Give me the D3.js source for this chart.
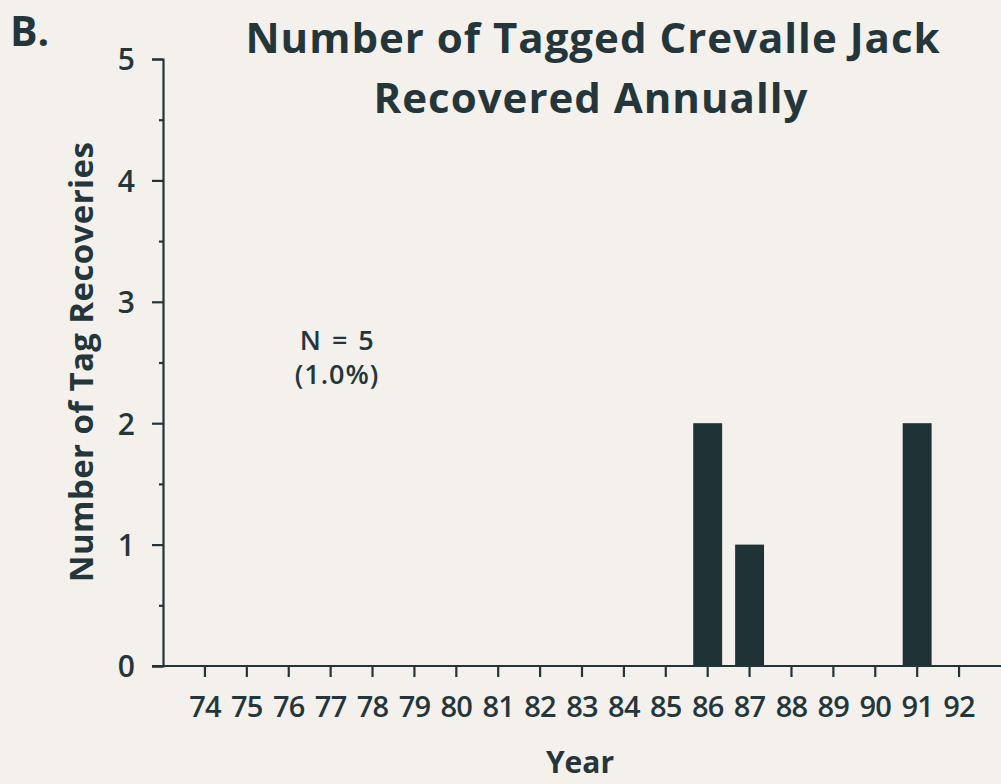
<!DOCTYPE html>
<html>
<head>
<meta charset="utf-8">
<script src="https://cdn.jsdelivr.net/npm/d3@7"></script>
<style>
  body { margin: 0; background: #f4f1ec; }
  svg { display: block; }
  text { font-family: "Open Sans", sans-serif; fill: #25363b; }
</style>
</head>
<body>
<svg id="svg" width="1001" height="784"></svg>
<script>
// data
var years = ["74","75","76","77","78","79","80","81","82","83","84","85","86","87","88","89","90","91","92"];
var recoveries = [0,0,0,0,0,0,0,0,0,0,0,0,2,1,0,0,0,2,0];
var yTicks = [0,1,2,3,4,5];
var yMinor = [0.5,1.5,2.5,3.5,4.5];

var ink = "#22343a";
var svg = d3.select("#svg");

var x = d3.scaleBand()
  .domain(years)
  .range([184, 980])
  .paddingInner(0.31)
  .paddingOuter(0.155);
var y = d3.scaleLinear()
  .domain([0, 5])
  .range([666, 59]);

// bars
svg.append("g").selectAll("rect")
  .data(years.map((d,i)=>({yr: d, v: recoveries[i]})).filter(d=>d.v > 0))
  .enter().append("rect")
  .attr("x", d=>x(d.yr))
  .attr("width", x.bandwidth())
  .attr("y", d=>y(d.v))
  .attr("height", d=>y(0)-y(d.v))
  .attr("fill", "#1f3236");

// y axis
var yax = svg.append("g")
  .attr("transform", "translate(163,0)")
  .call(d3.axisLeft(y).tickValues(yTicks).tickSize(11).tickPadding(17).tickFormat(d3.format("d")));
yax.selectAll("text").style("font-size", "30px").style("font-weight", "600").attr("dy", "0.36em");
svg.append("g")
  .attr("transform", "translate(163,0)")
  .call(d3.axisLeft(y).tickValues(yMinor).tickSize(4).tickFormat(""))
  .select(".domain").remove();

// x axis
var xax = svg.append("g")
  .attr("transform", "translate(0," + y(0) + ")")
  .call(d3.axisBottom(x).tickSize(11).tickPadding(19));
xax.select(".domain").remove();
xax.selectAll("text").style("font-size", "29px").style("font-weight", "600").attr("letter-spacing", "-0.8px");
svg.append("line")
  .attr("x1", 152).attr("x2", 1001)
  .attr("y1", y(0)).attr("y2", y(0));

svg.selectAll(".domain, .tick line, line")
  .attr("stroke", ink).attr("stroke-width", 2.2);

// titles
svg.append("text").attr("x", 10).attr("y", 46)
  .style("font-size", "41px").style("font-weight", "bold").text("B.");
svg.append("text").attr("x", 593).attr("y", 53).attr("text-anchor", "middle")
  .attr("letter-spacing", "1px")
  .style("font-size", "42px").style("font-weight", "bold").text("Number of Tagged Crevalle Jack");
svg.append("text").attr("x", 591).attr("y", 113).attr("text-anchor", "middle")
  .attr("letter-spacing", "1px")
  .style("font-size", "42px").style("font-weight", "bold").text("Recovered Annually");

svg.append("text").attr("transform", "translate(93,362) rotate(-90)")
  .attr("text-anchor", "middle").attr("letter-spacing", "0.4px")
  .style("font-size", "33px").style("font-weight", "bold").text("Number of Tag Recoveries");
svg.append("text").attr("x", 580).attr("y", 773).attr("text-anchor", "middle")
  .style("font-size", "30px").style("font-weight", "bold").text("Year");

svg.append("text").attr("x", 337).attr("y", 350).attr("text-anchor", "middle")
  .attr("letter-spacing", "0.5px").attr("word-spacing", "3px")
  .style("font-size", "27px").style("font-weight", "600").text("N = 5");
svg.append("text").attr("x", 337).attr("y", 384).attr("text-anchor", "middle")
  .attr("letter-spacing", "1px")
  .style("font-size", "27px").style("font-weight", "600").text("(1.0%)");
</script>
</body>
</html>
